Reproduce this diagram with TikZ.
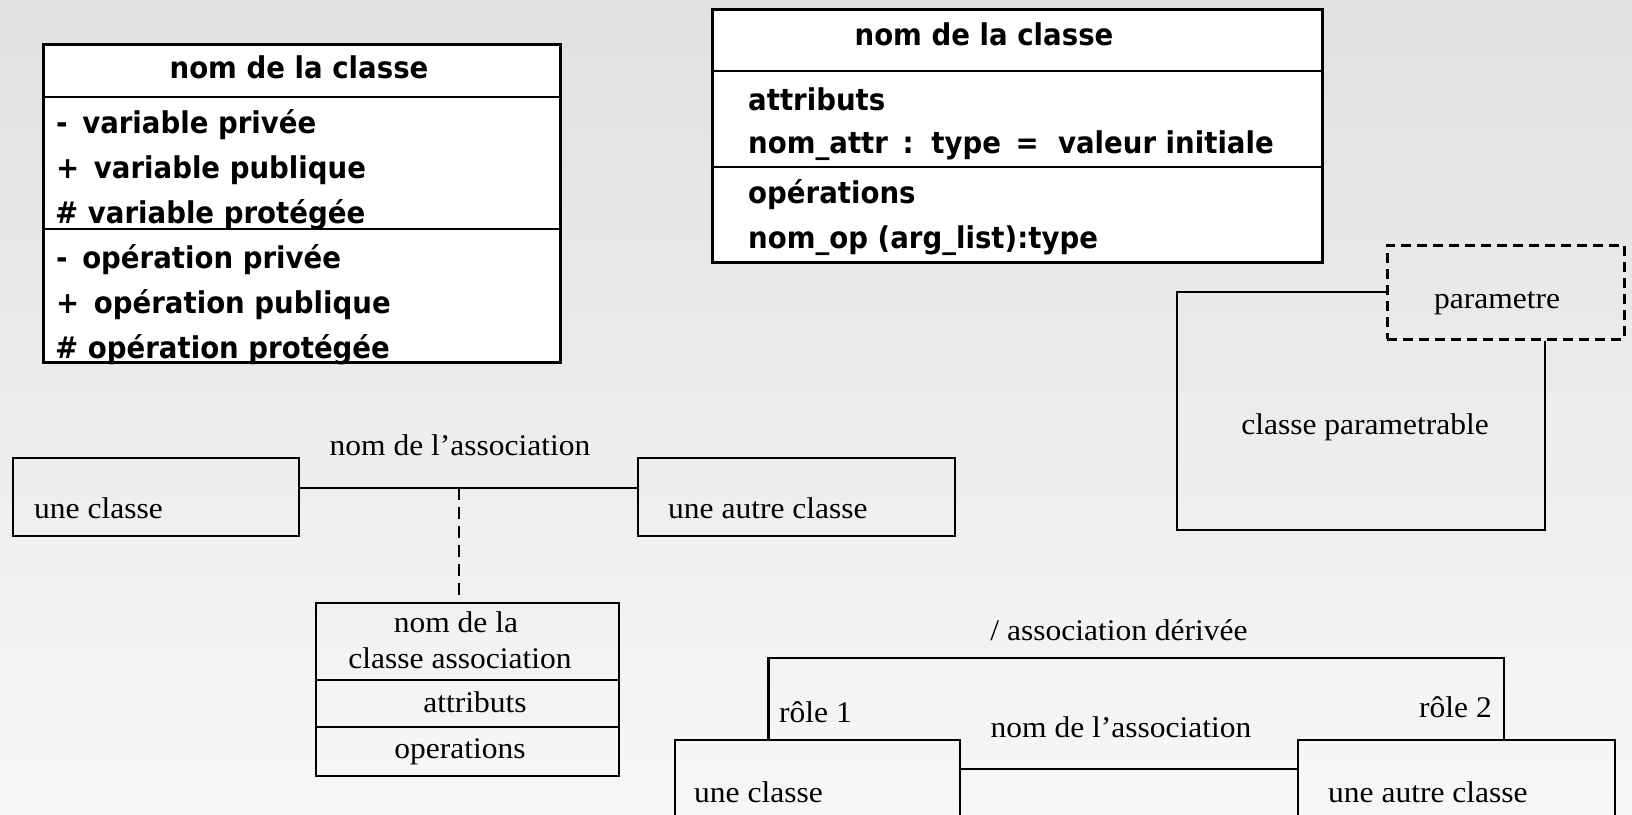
\documentclass[tikz,border=0pt]{standalone}
\usepackage{fontspec}
\newfontfamily\comicfont{DejaVu Sans}[FakeStretch=0.92]
\newfontfamily\serifx{Liberation Serif}[FakeStretch=1.05]
\definecolor{bgtop}{RGB}{225,225,225}
\definecolor{bgbot}{RGB}{247,247,247}
\tikzset{
  classbox/.style={draw, line width=2.6pt, fill=white, anchor=north west, inner sep=0pt},
  linebox/.style={draw, line width=2.2pt, anchor=north west, inner sep=0pt},
  ctext/.style={font=\comicfont\bfseries\fontsize{30}{36}\selectfont, inner sep=0pt, anchor=base west},
  ctitle/.style={ctext, anchor=base},
  stext/.style={font=\serifx\fontsize{30}{36}\selectfont, inner sep=0pt, anchor=base},
  sleft/.style={stext, anchor=base west},
  sright/.style={stext, anchor=base east},
  thin/.style={line width=2.2pt},
  thick/.style={line width=2.6pt},
}
\begin{document}
\begin{tikzpicture}[x=1pt, y=-1pt]
\useasboundingbox (0,0) rectangle (1632,814);
\clip (0,0) rectangle (1632,814);
\shade[top color=bgtop, bottom color=bgbot] (0,0) rectangle (1632,814);

% --- class with visibility markers ---
\node[classbox, minimum width=517pt, minimum height=318pt] (cls1) at (42,43) {};
\draw[thick] (cls1.west |- 0,97) -- (cls1.east |- 0,97);
\draw[thick] (cls1.west |- 0,229) -- (cls1.east |- 0,229);
\node[ctitle] (c1t) at (299,78) {nom de la classe};
\node[ctext] (c1a) at (56,133) {- \,variable privée};
\node[ctext] (c1b) at (56,178) {+ \,variable publique};
\node[ctext] (c1c) at (55,223) {\# variable protégée};
\node[ctext] (c1d) at (56,268) {- \,opération privée};
\node[ctext] (c1e) at (56,313) {+ \,opération publique};
\node[ctext] (c1f) at (55,358) {\# opération protégée};

% --- class with attribute / operation syntax ---
\node[classbox, minimum width=610pt, minimum height=253pt] (cls2) at (711,8) {};
\draw[thick] (cls2.west |- 0,71) -- (cls2.east |- 0,71);
\draw[thick] (cls2.west |- 0,167) -- (cls2.east |- 0,167);
\node[ctitle] (c2t) at (984,45) {nom de la classe};
\node[ctext] (c2a) at (748,110) {attributs};
\node[ctext] (c2b) at (748,153) {nom\_attr \,: \,type \,= \ valeur initiale};
\node[ctext] (c2c) at (748,203) {opérations};
\node[ctext] (c2d) at (748,248) {nom\_op (arg\_list):type};

% --- parameterised class ---
\node[draw, thick, dashed, dash pattern=on 10pt off 6pt, anchor=north west, inner sep=0pt,
      minimum width=237pt, minimum height=94pt] (param) at (1386,244) {};
\coordinate (pbr) at (1545,530);
\draw[thick] (param.west |- 0,292) -- (1177,292) -- (1177,530) -- (pbr) -- (pbr |- param.south);
\node[stext] (paramt) at (1497,308) {parametre};
\node[stext] (pclass) at (1365,434) {classe parametrable};

% --- association with association class ---
\node[linebox, minimum width=286pt, minimum height=78pt] (a1) at (12,457) {};
\node[linebox, minimum width=317pt, minimum height=78pt] (a2) at (637,457) {};
\node[sleft] (a1t) at (34,518) {une classe};
\node[sleft] (a2t) at (668,518) {une autre classe};
\draw[thin] (a1.east |- 0,488) -- (a2.west |- 0,488);
\node[stext] (assoc) at (460,455) {nom de l’association};
\coordinate (amid) at (459,488);
\node[linebox, minimum width=303pt, minimum height=173pt] (acls) at (315,602) {};
\draw[thin, dash pattern=on 12pt off 7pt] (amid) -- (amid |- acls.north);
\draw[thin] (acls.west |- 0,680) -- (acls.east |- 0,680);
\draw[thin] (acls.west |- 0,727) -- (acls.east |- 0,727);
\node[stext] (ac1) at (456,632) {nom de la};
\node[stext] (ac2) at (460,668) {classe association};
\node[stext] (ac3) at (475,712) {attributs};
\node[stext] (ac4) at (460,758) {operations};

% --- derived association with roles ---
\node[linebox, minimum width=285pt, minimum height=100pt] (b1) at (674,739) {};
\node[linebox, minimum width=317pt, minimum height=100pt] (b2) at (1297,739) {};
\node[sleft] (b1t) at (694,802) {une classe};
\node[sleft] (b2t) at (1328,802) {une autre classe};
\draw[thin] (b1.east |- 0,769) -- (b2.west |- 0,769);
\coordinate (dl) at (768.5,658);
\coordinate (dr) at (1504,658);
\draw[thin] (dl |- b1.north) -- (dl) -- (dr) -- (dr |- b2.north);
\node[stext] (deriv) at (1119,640) {/ association dérivée};
\node[sleft] (r1) at (779,722) {rôle 1};
\node[sright] (r2) at (1492,717) {rôle 2};
\node[stext] (bassoc) at (1121,737) {nom de l’association};
\end{tikzpicture}
\end{document}
